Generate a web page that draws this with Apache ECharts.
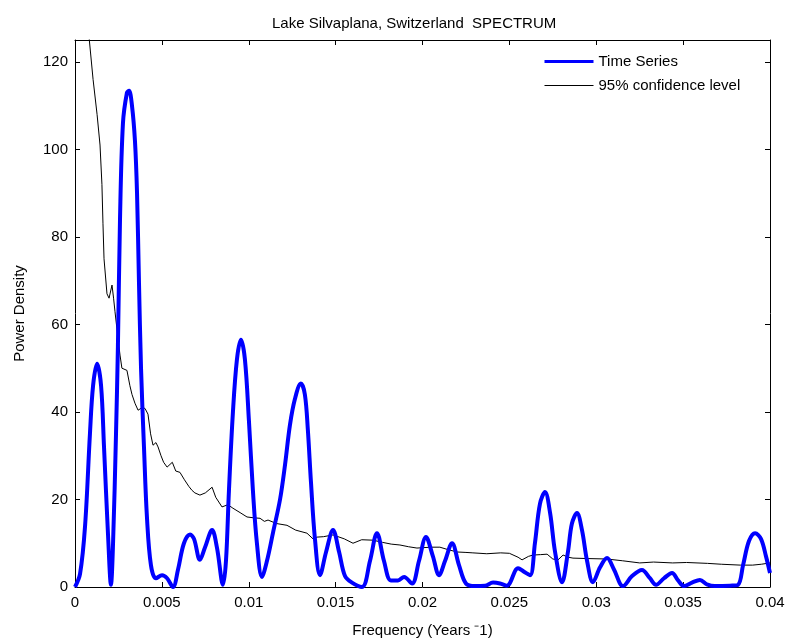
<!DOCTYPE html>
<html>
<head>
<meta charset="utf-8">
<script src="https://cdn.jsdelivr.net/npm/echarts@6/dist/echarts.min.js"></script>
<style>
  html, body { margin: 0; padding: 0; background: #fff; }
  #chart { width: 785px; height: 639px; }
</style>
</head>
<body>
<div id="chart"></div>
<script>
// Power spectrum of the Lake Silvaplana record: frequency (1/yr) vs power density
const spectrumFreq = [
  0, 0.00029, 0.00058, 0.00086, 0.00104, 0.00127, 0.0015, 0.00167, 0.0019, 0.00207,
  0.00219, 0.00236, 0.00247, 0.00259, 0.00276, 0.00299, 0.00311, 0.00328, 0.00345, 0.00357,
  0.00368, 0.0038, 0.00397, 0.00414, 0.00437, 0.00466, 0.00501, 0.0053, 0.00564, 0.00593,
  0.00627, 0.00662, 0.00685, 0.00719, 0.00748, 0.00789, 0.00817, 0.00852, 0.00869, 0.00886,
  0.00909, 0.00932, 0.00955, 0.00978, 0.01001, 0.01024, 0.01047, 0.01076, 0.01105, 0.0114,
  0.0118, 0.01209, 0.01237, 0.01266, 0.013, 0.01323, 0.0134, 0.01358, 0.01381, 0.0141,
  0.01445, 0.01485, 0.0152, 0.01554, 0.01594, 0.01652, 0.01698, 0.01738, 0.01778, 0.01818,
  0.01859, 0.01894, 0.0194, 0.0198, 0.0202, 0.0206, 0.02095, 0.0213, 0.0217, 0.0221,
  0.0225, 0.023, 0.0236, 0.02406, 0.02446, 0.02486, 0.0255, 0.02584, 0.02619, 0.02647,
  0.02676, 0.02705, 0.02734, 0.02763, 0.02803, 0.02837, 0.0286, 0.02889, 0.02918, 0.02947,
  0.02981, 0.03022, 0.03062, 0.03102, 0.03154, 0.03206, 0.03263, 0.03309, 0.03344, 0.0339,
  0.03436, 0.03471, 0.03505, 0.03551, 0.03597, 0.03637, 0.03683, 0.0377, 0.03816, 0.03845,
  0.03879, 0.03914, 0.03948, 0.03977, 0.04
];
const spectrumPower = [
  0, 3, 14, 35, 46, 51, 46, 32, 12, 0.5,
  10, 35, 55, 84, 106, 113, 113.4, 110, 102, 90,
  70, 50, 32, 16, 5, 2, 2.7, 2, 0, 4,
  10, 12, 11, 6.2, 9, 13, 9, 0.5, 6, 22,
  40, 52, 56.5, 52, 38, 22, 10, 2.3, 6, 12.5,
  20, 28, 37, 43, 46.5, 44, 36, 24, 11, 2.7,
  8, 13, 8, 2.5, 1, 0, 6, 12.3, 6, 1.5,
  1.5, 2.3, 0.8, 6, 11.4, 7, 2.7, 6, 10, 5,
  0.8, 0.2, 0.3, 1, 0.8, 0.3, 4.3, 3.5, 2.7, 10,
  19, 21.7, 17, 8, 1.1, 8, 14.5, 16.9, 13, 6,
  1.1, 4.5, 6.6, 4, 0.2, 2.5, 3.9, 2, 0.5, 2,
  3.2, 1.5, 0.2, 1, 1.6, 0.6, 0.2, 0.3, 0.5, 5,
  10.5, 12.3, 11, 7, 3.2
];

// 95% confidence level of the red-noise background
const confFreq = [
  0.0008, 0.00104, 0.00127, 0.00144, 0.00155, 0.00161, 0.00167, 0.00184, 0.00196, 0.00213,
  0.00222, 0.0023, 0.00247, 0.00259, 0.0027, 0.00299, 0.00316, 0.00328, 0.00345, 0.00363,
  0.00386, 0.00403, 0.0042, 0.00435, 0.00449, 0.00466, 0.00478, 0.00495, 0.0051, 0.0053,
  0.0056, 0.0058, 0.00604, 0.0063, 0.00655, 0.00673, 0.0069, 0.00719, 0.0075, 0.00789,
  0.0081, 0.00846, 0.0088, 0.00909, 0.0095, 0.0099, 0.0103, 0.01065, 0.0109, 0.01111,
  0.0116, 0.0122, 0.0127, 0.01335, 0.0137, 0.01393, 0.0143, 0.01485, 0.0155, 0.016,
  0.0165, 0.01715, 0.0177, 0.0182, 0.0187, 0.0192, 0.01968, 0.0205, 0.021, 0.0215,
  0.022, 0.0225, 0.0229, 0.0237, 0.0245, 0.025, 0.0255, 0.02573, 0.0261, 0.02636,
  0.0268, 0.02717, 0.0275, 0.0278, 0.02809, 0.0284, 0.02866, 0.0295, 0.0306, 0.0315,
  0.0325, 0.0333, 0.0344, 0.0352, 0.0364, 0.0372, 0.0383, 0.039, 0.0395, 0.04
];
const confPower = [
  126, 116, 108, 101, 92, 83, 75, 67, 66, 69,
  66, 63, 57, 53, 50, 49.5, 46, 44, 42, 40.4,
  41, 40.8, 39.5, 35, 32.4, 33, 32, 30, 28.5, 27.4,
  28.5, 26.5, 26.2, 24.5, 23, 22.1, 21.5, 21, 21.5, 22.8,
  20.5, 18.3, 18.8, 18, 17, 16, 15.8, 15.7, 15, 15.3,
  14.5, 14.1, 13, 12.3, 11, 11.4, 11.5, 11.9, 11, 10,
  10.8, 10.7, 10.2, 9.8, 9.6, 9.2, 8.9, 9.1, 9.1, 8.5,
  8, 7.9, 7.8, 7.6, 7.8, 7.7, 6.8, 6.2, 7, 7.3,
  7.4, 7.5, 6.4, 6.2, 7.3, 6.8, 6.6, 6.5, 6.4, 6.0,
  5.5, 5.7, 5.5, 5.6, 5.4, 5.2, 5.0, 5.0, 5.2, 5.5
];

const xTicks = [0, 0.005, 0.01, 0.015, 0.02, 0.025, 0.03, 0.035, 0.04];
const yTicks = [0, 20, 40, 60, 80, 100, 120];

const FONT = 'Liberation Sans, Arial, sans-serif';
const FS = 15;
const chart = echarts.init(document.getElementById('chart'), null, { renderer: 'canvas' });

const xLabel = v => (v === 0 ? '0' : String(+v.toFixed(3)));

// axis frame: lines stay on their own edge of the grid, ticks point inward
const frameLine = { show: true, onZero: false, lineStyle: { color: '#000', width: 1 } };
const tickStyle = { color: '#000', width: 1 };

chart.setOption({
  animation: false,
  backgroundColor: '#fff',
  title: {
    text: 'Lake Silvaplana, Switzerland  SPECTRUM',
    left: 267,
    top: 11,
    textStyle: { fontFamily: FONT, fontSize: FS, fontWeight: 'normal', color: '#000' }
  },
  legend: {
    orient: 'vertical',
    left: 543,
    top: 54,
    padding: 0,
    itemWidth: 49,
    itemHeight: 14,
    itemGap: 9,
    itemStyle: { opacity: 0 },
    textStyle: { fontFamily: FONT, fontSize: FS, color: '#000' },
    data: [
      { name: 'Time Series', lineStyle: { width: 3 } },
      { name: '95% confidence level', lineStyle: { width: 1 } }
    ]
  },
  grid: { left: 75, right: 15, top: 40, bottom: 52, containLabel: false, outerBoundsMode: 'none' },
  xAxis: [
    {
      type: 'value', min: 0, max: 0.04, interval: 0.005, position: 'bottom',
      name: 'Frequency (Years ⁻1)', nameLocation: 'middle', nameGap: 36,
      nameTextStyle: { fontFamily: FONT, fontSize: FS, color: '#000' },
      axisLine: frameLine,
      axisTick: { show: true, inside: true, length: 5, lineStyle: tickStyle, customValues: xTicks },
      axisLabel: { customValues: xTicks, formatter: xLabel, fontFamily: FONT, fontSize: FS, color: '#000', margin: 8 },
      splitLine: { show: false }
    },
    {
      type: 'value', min: 0, max: 0.04, interval: 0.005, position: 'top',
      axisLine: frameLine,
      axisTick: { show: true, inside: true, length: 5, lineStyle: tickStyle, customValues: xTicks },
      axisLabel: { show: false },
      splitLine: { show: false }
    }
  ],
  yAxis: [
    {
      type: 'value', min: 0, max: 125, interval: 20, position: 'left',
      name: 'Power Density', nameLocation: 'middle', nameGap: 48,
      nameTextStyle: { fontFamily: FONT, fontSize: FS, color: '#000' },
      axisLine: frameLine,
      axisTick: { show: true, inside: true, length: 5, lineStyle: tickStyle, customValues: yTicks },
      axisLabel: { customValues: yTicks, fontFamily: FONT, fontSize: FS, color: '#000', margin: 7 },
      splitLine: { show: false }
    },
    {
      type: 'value', min: 0, max: 125, interval: 20, position: 'right',
      axisLine: frameLine,
      axisTick: { show: true, inside: true, length: 5, lineStyle: tickStyle, customValues: yTicks },
      axisLabel: { show: false },
      splitLine: { show: false }
    }
  ],
  series: [
    {
      name: 'Time Series',
      type: 'line',
      xAxisIndex: 0, yAxisIndex: 0,
      data: spectrumFreq.map((f, i) => [f, spectrumPower[i]]),
      showSymbol: false,
      symbol: 'none',
      smooth: 0.35,
      clip: true,
      lineStyle: { color: '#0000ff', width: 4 },
      itemStyle: { color: '#0000ff' },
      z: 3
    },
    {
      name: '95% confidence level',
      type: 'line',
      xAxisIndex: 0, yAxisIndex: 0,
      data: confFreq.map((f, i) => [f, confPower[i]]),
      showSymbol: false,
      symbol: 'none',
      clip: true,
      lineStyle: { color: '#000', width: 1 },
      itemStyle: { color: '#000' },
      z: 2
    }
  ]
});
</script>
</body>
</html>
